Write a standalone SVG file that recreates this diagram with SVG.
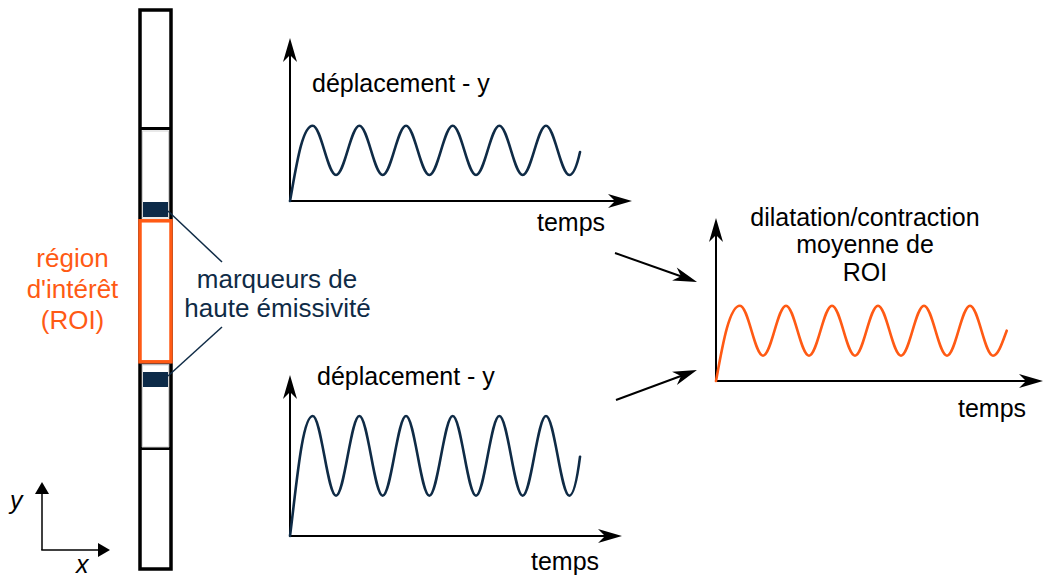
<svg xmlns="http://www.w3.org/2000/svg" width="1044" height="581" viewBox="0 0 1044 581">
<style>
text{font-family:"Liberation Sans",Arial,sans-serif}
.lbl{font-size:25px;fill:#000}
.org{font-size:26px;fill:#ff5a14;text-anchor:middle}
.nav{font-size:26px;fill:#0f2b46;text-anchor:middle}
.ax{stroke:#000;stroke-width:2;fill:none}
.wave{stroke:#0f2b46;stroke-width:2.6;fill:none;stroke-linecap:round;stroke-linejoin:round}
.wo{stroke:#ff5a14;stroke-width:2.6;fill:none;stroke-linecap:round;stroke-linejoin:round}
.lead{stroke:#0f2b46;stroke-width:1.5}
</style>
<defs>
<marker id="ah" viewBox="-10 -8 26 16" refX="0" refY="0" markerWidth="26" markerHeight="16" markerUnits="userSpaceOnUse" orient="auto">
<path d="M15,0 L-9,-7 L-2,0 L-9,7 Z" fill="#000"/>
</marker>
<marker id="tri" viewBox="-1 -8 14 16" refX="0" refY="0" markerWidth="14" markerHeight="16" markerUnits="userSpaceOnUse" orient="auto">
<path d="M12,0 L0,-7 L0,7 Z" fill="#000"/>
</marker>
</defs>
<rect width="1044" height="581" fill="#fff"/>

<g id="bar">
<rect x="140" y="10" width="31" height="559" fill="#fff" stroke="#000" stroke-width="3.5"/>
<line x1="140" y1="128.5" x2="171" y2="128.5" stroke="#000" stroke-width="3"/>
<line x1="140" y1="448.5" x2="171" y2="448.5" stroke="#000" stroke-width="3"/>
<rect x="142.5" y="131" width="26" height="87" fill="none" stroke="#d4d4d4" stroke-width="1"/>
<rect x="142.5" y="365" width="26" height="82" fill="none" stroke="#d4d4d4" stroke-width="1"/>
<line x1="140" y1="363.5" x2="171" y2="363.5" stroke="#0f2b46" stroke-width="1.5"/>
</g>
<g id="roi">
<rect x="140" y="220.8" width="31" height="141" fill="#fff" stroke="#ff5a14" stroke-width="3.5"/>
</g>
<g id="markers">
<rect x="143" y="202" width="25" height="15" fill="#0c2a48"/>
<rect x="143" y="372" width="25" height="15" fill="#0c2a48"/>
</g>

<g id="roi-label">
<text class="org" x="72.5" y="267">région</text>
<text class="org" x="72.5" y="298">d'intérêt</text>
<text class="org" x="72.5" y="329">(ROI)</text>
</g>
<g id="marker-label">
<text class="nav" x="277" y="288">marqueurs de</text>
<text class="nav" x="277.5" y="317">haute émissivité</text>
</g>

<g id="xy-axes">
<line x1="42" y1="550" x2="42" y2="494" stroke="#000" stroke-width="1.5" marker-end="url(#tri)"/>
<line x1="41.25" y1="550" x2="98" y2="550" stroke="#000" stroke-width="1.5" marker-end="url(#tri)"/>
<text x="10" y="509" style="font-size:25px;font-style:italic">y</text>
<text x="76" y="573" style="font-size:25px;font-style:italic">x</text>
</g>

<g id="chart-top">
<line class="ax" x1="290" y1="202" x2="290" y2="53" marker-end="url(#ah)"/>
<line class="ax" x1="289" y1="201" x2="617" y2="201" marker-end="url(#ah)"/>
<path class="wave" d="M290,201 C296,168 302,125.7 312.7,125.7 c8.48,0 14.85,49.3 23.33,49.3 s14.85,-49.3 23.33,-49.3 s14.85,49.3 23.33,49.3 s14.85,-49.3 23.33,-49.3 s14.85,49.3 23.33,49.3 s14.85,-49.3 23.33,-49.3 s14.85,49.3 23.33,49.3 s14.85,-49.3 23.33,-49.3 s14.85,49.3 23.33,49.3 s14.85,-49.3 23.33,-49.3 s14.85,49.3 23.33,49.3 c4.5,0 8,-11 10.7,-23"/>
<text class="lbl" x="312" y="92">déplacement - y</text>
<text class="lbl" x="537" y="231">temps</text>
</g>

<g id="chart-bottom">
<line class="ax" x1="290" y1="537" x2="290" y2="390" marker-end="url(#ah)"/>
<line class="ax" x1="289" y1="536" x2="607" y2="536" marker-end="url(#ah)"/>
<path class="wave" d="M290,536 C296,490 302,416 312.7,416 c8.48,0 14.85,79.7 23.33,79.7 s14.85,-79.7 23.33,-79.7 s14.85,79.7 23.33,79.7 s14.85,-79.7 23.33,-79.7 s14.85,79.7 23.33,79.7 s14.85,-79.7 23.33,-79.7 s14.85,79.7 23.33,79.7 s14.85,-79.7 23.33,-79.7 s14.85,79.7 23.33,79.7 s14.85,-79.7 23.33,-79.7 s14.85,79.7 23.33,79.7 c4.5,0 8,-18 10.7,-39"/>
<text class="lbl" x="317" y="385">déplacement - y</text>
<text class="lbl" x="531" y="570">temps</text>
</g>

<g id="chart-roi">
<line class="ax" x1="716" y1="382" x2="716" y2="233" marker-end="url(#ah)"/>
<line class="ax" x1="715" y1="381" x2="1028" y2="381" marker-end="url(#ah)"/>
<path class="wo" d="M716,381 C722,348 729,305.7 740,305.7 c8.36,0 14.64,50 23,50 s14.64,-50 23,-50 s14.64,50 23,50 s14.64,-50 23,-50 s14.64,50 23,50 s14.64,-50 23,-50 s14.64,50 23,50 s14.64,-50 23,-50 s14.64,50 23,50 s14.64,-50 23,-50 s14.64,50 23,50 c5,0 9,-12 13.7,-25"/>
<text class="lbl" x="865" y="226" text-anchor="middle">dilatation/contraction</text>
<text class="lbl" x="865" y="253" text-anchor="middle">moyenne de</text>
<text class="lbl" x="865" y="281" text-anchor="middle">ROI</text>
<text class="lbl" x="958" y="417">temps</text>
</g>

<g id="connectors">
<line class="lead" x1="168" y1="211" x2="222" y2="262"/>
<line class="lead" x1="168" y1="376" x2="222" y2="327"/>
<line x1="615" y1="253" x2="682.9" y2="277" stroke="#000" stroke-width="2" marker-end="url(#ah)"/>
<line x1="616" y1="400" x2="682.9" y2="375.2" stroke="#000" stroke-width="2" marker-end="url(#ah)"/>
</g>
</svg>
